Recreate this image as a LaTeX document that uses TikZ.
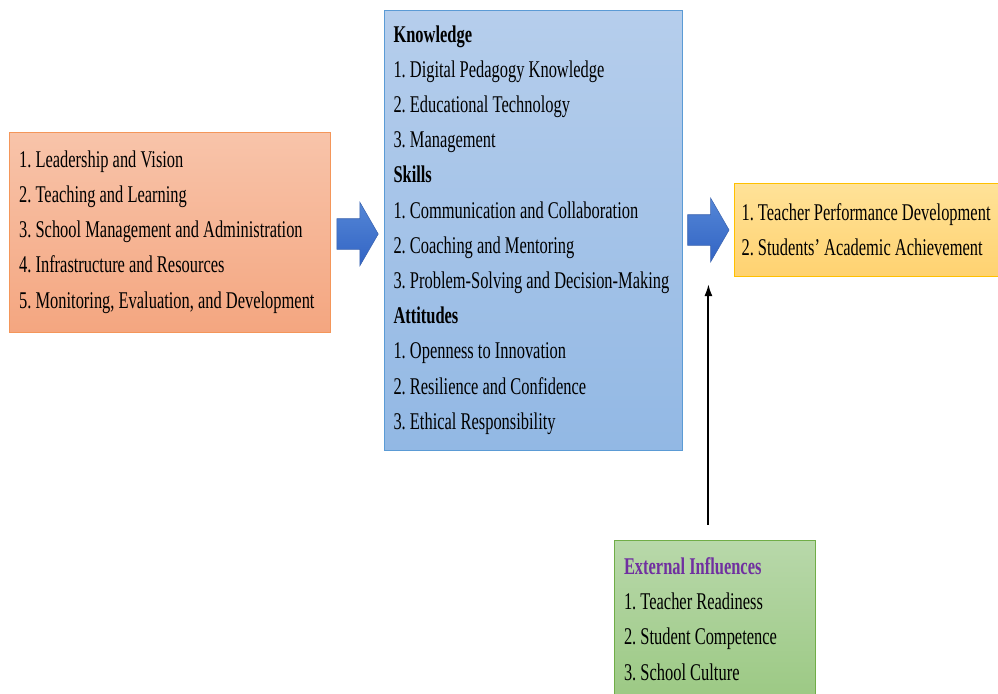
\documentclass[tikz,border=0pt]{standalone}
\usepackage{fontspec}
\setmainfont{Liberation Serif}[FakeStretch=0.685]
\definecolor{PeachTop}{RGB}{248,196,170}
\definecolor{PeachBot}{RGB}{244,166,128}
\definecolor{PeachLine}{RGB}{244,150,90}
\definecolor{SkyTop}{RGB}{182,206,236}
\definecolor{SkyBot}{RGB}{146,184,228}
\definecolor{SkyLine}{RGB}{91,155,213}
\definecolor{SunTop}{RGB}{255,226,152}
\definecolor{SunBot}{RGB}{255,210,112}
\definecolor{SunLine}{RGB}{255,192,0}
\definecolor{LeafTop}{RGB}{184,216,170}
\definecolor{LeafBot}{RGB}{156,201,132}
\definecolor{LeafLine}{RGB}{112,173,71}
\definecolor{ArrowTop}{RGB}{84,134,214}
\definecolor{ArrowBot}{RGB}{50,100,196}
\definecolor{ArrowLine}{RGB}{60,100,175}
\definecolor{InflPurple}{RGB}{112,48,160}
\usepackage{tikz}
\usetikzlibrary{arrows.meta,positioning,shapes.arrows,calc}
\hyphenpenalty=10000
\exhyphenpenalty=10000
\frenchspacing

\begin{document}
\begin{tikzpicture}[
    x=0.75pt, y=-0.75pt,
    font={\fontsize{18pt}{26.4pt}\selectfont},
    box/.style={draw, line width=0.75pt, align=flush left, inner ysep=0pt, inner xsep=7.5pt},
    fat/.style={single arrow, draw=ArrowLine, line width=0.4pt, top color=ArrowTop,
                bottom color=ArrowBot, inner xsep=0pt, inner ysep=11.25pt,
                minimum height=31pt, single arrow head extend=12.4pt,
                single arrow tip angle=120},
    arr/.style={-{Latex[length=9pt,width=6pt]}, line width=1.5pt}
  ]
    \useasboundingbox (0,0) rectangle (998,693);

    % Competencies in the middle
    \node[box, draw=SkyLine, top color=SkyTop, bottom color=SkyBot, inner xsep=7.1pt,
          text width=210pt, minimum height=330pt] (comp) at (533.5,230)
      {\textbf{Knowledge}\\
       1. Digital Pedagogy Knowledge\\
       2. Educational Technology\\
       3. Management\\
       \textbf{Skills}\\
       1. Communication and Collaboration\\
       2. Coaching and Mentoring\\
       3. Problem-Solving and Decision-Making\\
       \textbf{Attitudes}\\
       1. Openness to Innovation\\
       2. Resilience and Confidence\\
       3. Ethical Responsibility};

    % Input on the left
    \node[fat, left=3.75pt of comp, yshift=-3pt] (arr1) {};
    \node[box, draw=PeachLine, top color=PeachTop, bottom color=PeachBot,
          text width=225.75pt, minimum height=150pt, left=4.5pt of arr1, yshift=1.5pt] (lbox)
      {1. Leadership and Vision\\
       2. Teaching and Learning\\
       3. School Management and Administration\\
       4. Infrastructure and Resources\\
       5. Monitoring, Evaluation, and Development};

    % Outcomes on the right
    \node[fat, right=3pt of comp] (arr2) {};
    \node[box, draw=SunLine, top color=SunTop, bottom color=SunBot, inner xsep=5pt,
          text width=188pt, minimum height=69.75pt, right=3.75pt of arr2] (res)
      {1. Teacher Performance Development\\
       2. Students’ Academic Achievement};

    % External influences
    \node[box, draw=LeafLine, top color=LeafTop, bottom color=LeafBot,
          text width=135.75pt, minimum height=118.5pt] (ext) at (714.5,619)
      {\textcolor{InflPurple}{\textbf{External Influences}}\\
       1. Teacher Readiness\\
       2. Student Competence\\
       3. School Culture};

    \coordinate (tip) at ($($(arr2.tail)!0.5!(arr2.tip)$)+(0,54)$);
    \coordinate (foot) at ($(ext.north -| tip)+(0,-15)$);
    \draw[arr] (foot) -- (tip);
  \end{tikzpicture}
\end{document}
